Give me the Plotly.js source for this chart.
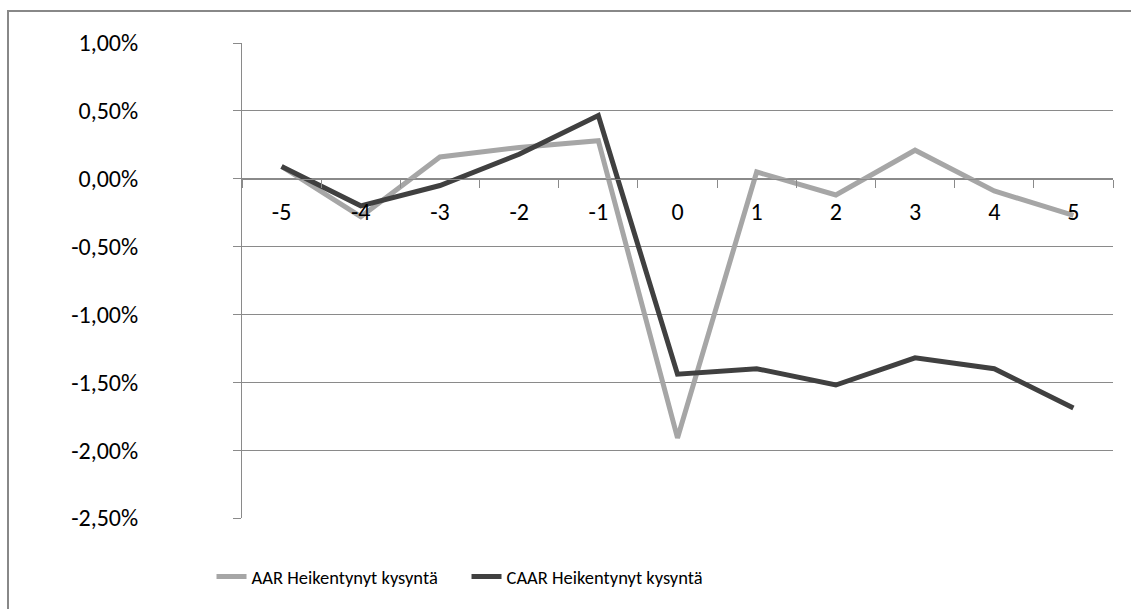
<!DOCTYPE html>
<html>
<head>
<meta charset="utf-8">
<script src="https://cdn.plot.ly/plotly-3.0.1.min.js"></script>
<style>
html,body{margin:0;padding:0;background:#fff;overflow:hidden;}
#frame{position:absolute;left:7px;top:10px;width:1200px;height:700px;border:2px solid #888;box-sizing:border-box;}
#chart{position:absolute;left:0;top:0;width:1131px;height:609px;}
</style>
</head>
<body>
<div id="frame"></div>
<div id="chart"></div>
<script>
const categories = ["-5","-4","-3","-2","-1","0","1","2","3","4","5"];
const aarValues  = [0.09,-0.28,0.16,0.23,0.28,-1.91,0.05,-0.12,0.21,-0.09,-0.27];
const caarValues = [0.09,-0.20,-0.05,0.18,0.465,-1.44,-1.40,-1.52,-1.32,-1.40,-1.69];
const seriesNames = ["AAR Heikentynyt kysyntä","CAAR Heikentynyt kysyntä"];
const yTickVals = [1,0.5,0,-0.5,-1,-1.5,-2,-2.5];
const yTickText = ["1,00%","0,50%","0,00%","-0,50%","-1,00%","-1,50%","-2,00%","-2,50%"];

const font = "Carlito, Lato, 'Open Sans', sans-serif";
const grid = "#8a8a8a";

const traces = [
  {x: categories, y: aarValues, name: seriesNames[0], type: "scatter", mode: "lines",
   line: {color: "#a6a6a6", width: 5}},
  {x: categories, y: caarValues, name: seriesNames[1], type: "scatter", mode: "lines",
   line: {color: "#404040", width: 5}}
];

const layout = {
  width: 1131, height: 609,
  margin: {l: 242, r: 18, t: 43, b: 91},
  paper_bgcolor: "rgba(0,0,0,0)",
  plot_bgcolor: "rgba(0,0,0,0)",
  font: {family: font, size: 24, color: "#000"},
  showlegend: true,
  legend: {orientation: "h", x: -0.035, xanchor: "left", y: -0.124, yanchor: "middle",
           font: {family: font, size: 18.5, color: "#000"}, itemwidth: 30,
           entrywidth: 210, entrywidthmode: "pixels", traceorder: "normal"},
  xaxis: {
    type: "category", categoryorder: "array", categoryarray: categories,
    anchor: "free", position: 2.5/3.5,
    showline: true, linecolor: grid, linewidth: 1,
    showgrid: false, zeroline: false,
    ticks: "outside", tickson: "boundaries", ticklen: 8, tickcolor: grid, tickwidth: 1,
    ticklabelstandoff: 11,
    tickfont: {family: font, size: 24, color: "#000"},
    range: [-0.5, 10.5], fixedrange: true
  },
  yaxis: {
    range: [-2.5, 1], tickmode: "array", tickvals: yTickVals, ticktext: yTickText,
    showline: true, linecolor: grid, linewidth: 1,
    showgrid: true, gridcolor: grid, gridwidth: 1, zeroline: false,
    ticks: "outside", ticklen: 8, tickcolor: grid, tickwidth: 1,
    ticklabelstandoff: 90,
    tickfont: {family: font, size: 24, color: "#000"},
    fixedrange: true
  }
};

Plotly.newPlot("chart", traces, layout, {displayModeBar: false, staticPlot: true});
</script>
</body>
</html>
